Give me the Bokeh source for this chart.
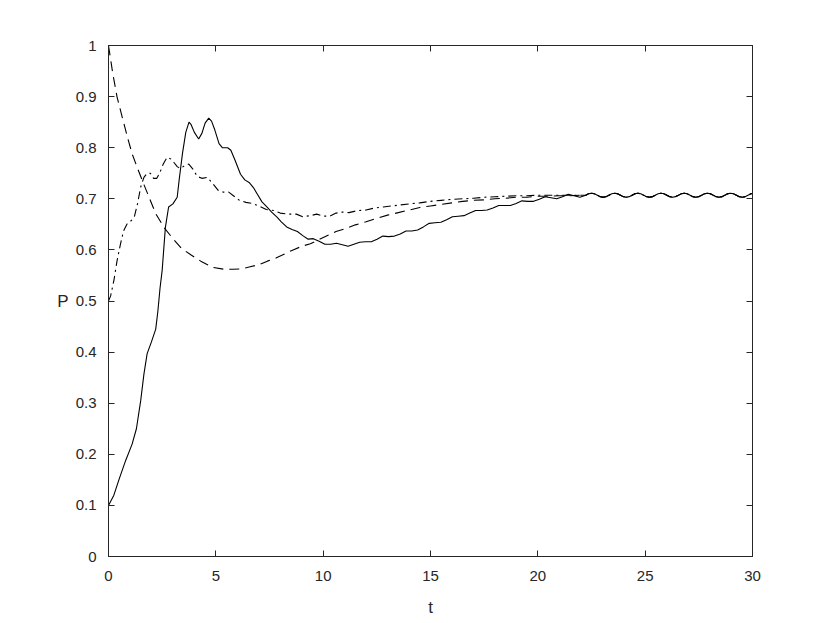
from bokeh.plotting import figure
from bokeh.models import Range1d, LinearAxis, FixedTicker, NumeralTickFormatter, CustomLabelingPolicy
from bokeh.embed import file_html
from bokeh.resources import INLINE

# ---- data ----
x_ticks = [0, 5, 10, 15, 20, 25, 30]
y_ticks = [0, 0.1, 0.2, 0.3, 0.4, 0.5, 0.6, 0.7, 0.8, 0.9, 1.0]

# common oscillating tail (all three curves coincide here)
tail_t = [22.23, 22.365, 22.50, 22.635, 22.77, 22.905, 23.04, 23.175,
          23.31, 23.445, 23.58, 23.715, 23.85, 23.985, 24.12, 24.255,
          24.39, 24.525, 24.66, 24.795, 24.93, 25.065, 25.20, 25.335,
          25.47, 25.605, 25.74, 25.875, 26.01, 26.145, 26.28, 26.415,
          26.55, 26.685, 26.82, 26.955, 27.09, 27.225, 27.36, 27.495,
          27.63, 27.765, 27.90, 28.035, 28.17, 28.305, 28.44, 28.575,
          28.71, 28.845, 28.98, 29.115, 29.25, 29.385, 29.52, 29.655,
          29.79, 29.925, 30.0]
tail_P = [0.707, 0.7098, 0.711, 0.7098, 0.707, 0.7042, 0.703, 0.7042,
          0.707, 0.7098, 0.711, 0.7098, 0.707, 0.7042, 0.703, 0.7042,
          0.707, 0.7098, 0.711, 0.7098, 0.707, 0.7042, 0.703, 0.7042,
          0.707, 0.7098, 0.711, 0.7098, 0.707, 0.7042, 0.703, 0.7042,
          0.707, 0.7098, 0.711, 0.7098, 0.707, 0.7042, 0.703, 0.7042,
          0.707, 0.7098, 0.711, 0.7098, 0.707, 0.7042, 0.703, 0.7042,
          0.707, 0.7098, 0.711, 0.7098, 0.707, 0.7042, 0.703, 0.7042,
          0.707, 0.7098, 0.7105]

solid_t = [0, 0.25, 0.5, 0.8, 1.1, 1.3, 1.5, 1.65, 1.8, 2.0, 2.2, 2.3, 2.4, 2.5,
           2.65, 2.8, 3.0, 3.2, 3.3, 3.45, 3.6, 3.75, 3.85, 4.0, 4.2, 4.35, 4.5,
           4.67, 4.8, 4.95, 5.15, 5.3, 5.55, 5.7, 5.9, 6.15, 6.35, 6.55, 6.75,
           6.95, 7.15, 7.4, 7.6, 7.85, 8.05, 8.3, 8.55, 8.8, 9.05, 9.3,
           9.54, 9.81, 10.08, 10.35, 10.62, 10.89, 11.16, 11.43, 11.70, 11.97,
           12.24, 12.51, 12.78, 13.05, 13.32, 13.59, 13.86, 14.13, 14.40, 14.67,
           14.94, 15.21, 15.48, 15.75, 16.02, 16.29, 16.56, 16.83, 17.10, 17.37,
           17.64, 17.91, 18.18, 18.45, 18.72, 18.99, 19.26, 19.53, 19.80, 20.07,
           20.34, 20.61, 20.88, 21.15, 21.42, 21.69, 21.96]
solid_P = [0.100, 0.120, 0.152, 0.188, 0.220, 0.250, 0.305, 0.357, 0.397, 0.420,
           0.445, 0.480, 0.525, 0.560, 0.644, 0.684, 0.690, 0.703, 0.740, 0.790,
           0.830, 0.850, 0.845, 0.830, 0.817, 0.828, 0.848, 0.858, 0.852, 0.835,
           0.808, 0.800, 0.800, 0.795, 0.775, 0.748, 0.737, 0.732, 0.722, 0.708,
           0.694, 0.683, 0.674, 0.664, 0.655, 0.645, 0.640, 0.636, 0.628, 0.621,
           0.622, 0.617, 0.611, 0.611, 0.613, 0.610, 0.607, 0.611, 0.615, 0.616,
           0.616, 0.621, 0.627, 0.626, 0.627, 0.631, 0.637, 0.637, 0.639, 0.645,
           0.652, 0.653, 0.654, 0.659, 0.665, 0.666, 0.667, 0.672, 0.677, 0.677,
           0.678, 0.682, 0.687, 0.687, 0.687, 0.691, 0.696, 0.695, 0.695, 0.699,
           0.704, 0.702, 0.700, 0.704, 0.709, 0.706, 0.703]

dashed_t = [0, 0.2, 0.4, 0.65, 0.9, 1.1, 1.35, 1.6, 1.9, 2.2, 2.6, 3.0, 3.4, 3.85,
            4.3, 4.85, 5.4, 5.8, 6.2, 6.6, 7.0, 7.4, 7.8, 8.2, 8.6, 9.0, 9.4, 9.8,
            10.2, 10.6, 11.0, 11.5, 12.0, 12.5, 13.0, 13.5, 14.0, 14.5, 15.0, 15.5,
            16.0, 16.5, 17.0, 17.5, 18.0, 18.5, 19.0, 19.5, 20.0, 20.5, 21.0, 21.5,
            22.0]
dashed_P = [1.0, 0.945, 0.899, 0.858, 0.818, 0.788, 0.760, 0.733, 0.702, 0.671,
            0.643, 0.622, 0.603, 0.590, 0.578, 0.566, 0.562, 0.562, 0.563, 0.567,
            0.571, 0.578, 0.584, 0.592, 0.600, 0.607, 0.612, 0.620, 0.628, 0.636,
            0.641, 0.649, 0.655, 0.662, 0.668, 0.673, 0.678, 0.683, 0.686, 0.689,
            0.692, 0.695, 0.697, 0.698, 0.700, 0.701, 0.703, 0.703, 0.705, 0.705,
            0.706, 0.706, 0.707]

dashdot_t = [0, 0.1, 0.25, 0.4, 0.55, 0.7, 0.87, 1.05, 1.2, 1.35, 1.5, 1.65, 1.8,
             1.95, 2.1, 2.25, 2.4, 2.55, 2.73, 2.9, 3.05, 3.2, 3.35, 3.55, 3.74,
             3.95, 4.13, 4.35, 4.6, 4.85, 5.1, 5.35, 5.6, 5.85, 6.1, 6.4, 6.7, 7.0,
             7.35, 7.7, 8.0, 8.4, 8.75, 9.05, 9.4, 9.7, 10.0, 10.3, 10.6, 10.9,
             11.2, 11.6, 12.0, 12.4, 12.8, 13.2, 13.6, 14.0, 14.5, 15.0, 15.5,
             16.0, 16.5, 17.0, 17.5, 18.0, 18.5, 19.0, 19.5, 20.0, 20.5, 21.0,
             21.5, 22.0]
dashdot_P = [0.50, 0.51, 0.540, 0.579, 0.610, 0.637, 0.651, 0.657, 0.664, 0.690,
             0.723, 0.742, 0.750, 0.750, 0.740, 0.740, 0.752, 0.768, 0.781, 0.778,
             0.771, 0.763, 0.759, 0.765, 0.768, 0.757, 0.744, 0.740, 0.742, 0.730,
             0.717, 0.713, 0.713, 0.705, 0.697, 0.693, 0.691, 0.686, 0.679, 0.677,
             0.672, 0.670, 0.670, 0.665, 0.667, 0.670, 0.666, 0.666, 0.672, 0.674,
             0.673, 0.677, 0.678, 0.682, 0.684, 0.686, 0.688, 0.690, 0.692, 0.695,
             0.697, 0.699, 0.700, 0.701, 0.703, 0.704, 0.705, 0.706, 0.706, 0.707,
             0.707, 0.707, 0.707, 0.707]

AX = "#262626"
FONT = "Liberation Sans"

p = figure(width=822, height=623, output_backend="svg", toolbar_location=None,
           x_range=Range1d(0, 30), y_range=Range1d(0, 1),
           min_border_left=108, min_border_right=70, min_border_top=45,
           min_border_bottom=67)
p.xgrid.visible = False
p.ygrid.visible = False
p.outline_line_color = AX
p.outline_line_width = 1
p.background_fill_color = "white"
p.border_fill_color = "white"

p.line(solid_t + tail_t, solid_P + tail_P, line_color="black", line_width=1.1)
p.line(dashed_t + tail_t, dashed_P + tail_P, line_color="black", line_width=1.1,
       line_dash="10 6")
p.line(dashdot_t + tail_t, dashdot_P + tail_P, line_color="black", line_width=1.1,
       line_dash="8 4 2 4")

def style(ax, ticks):
    ax.ticker = FixedTicker(ticks=ticks)
    ax.axis_line_color = AX
    ax.major_tick_line_color = AX
    ax.major_tick_in = 6
    ax.major_tick_out = 0
    ax.minor_tick_line_color = None
    ax.major_label_text_font = FONT
    ax.major_label_text_color = AX
    ax.major_label_text_font_size = "15px"
    ax.axis_label_text_font = FONT
    ax.axis_label_text_color = AX
    ax.axis_label_text_font_size = "17px"
    ax.axis_label_text_font_style = "normal"

style(p.xaxis[0], x_ticks)
style(p.yaxis[0], y_ticks)
p.xaxis[0].axis_label = "t"
p.xaxis[0].major_label_standoff = 14
p.xaxis[0].axis_label_standoff = 14
p.yaxis[0].axis_label = "P"
p.yaxis[0].axis_label_orientation = "horizontal"
p.yaxis[0].major_label_standoff = 12
p.yaxis[0].axis_label_standoff = 4
p.yaxis[0].formatter = NumeralTickFormatter(format="0.[0]")
p.xaxis[0].formatter = NumeralTickFormatter(format="0")

hide = "const a = [...indices]; for (const i of a) { indices.unset(i) } return indices"
top = LinearAxis()
right = LinearAxis()
for ax, ticks in ((top, x_ticks), (right, y_ticks)):
    style(ax, ticks)
    ax.major_label_policy = CustomLabelingPolicy(code=hide)
    ax.major_label_standoff = 0
p.add_layout(top, "above")
p.add_layout(right, "right")

open("out.html", "w").write(file_html(p, INLINE))
